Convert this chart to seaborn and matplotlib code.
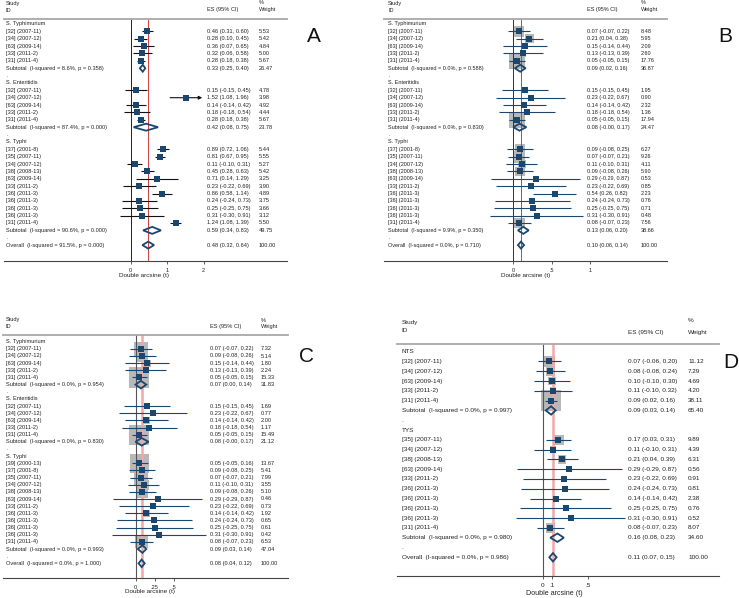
import numpy as np
import pandas as pd
import matplotlib
matplotlib.use("Agg")
import matplotlib.pyplot as plt
import seaborn as sns
from matplotlib.patches import Polygon

sns.set_theme(style="white")
plt.rcParams['font.family'] = ['Liberation Sans', 'DejaVu Sans']

W, H = 739, 598
NAVY = "#1a476f"
TXT = "#222222"

# ---------------- Panel A data ----------------
A_groups = ["S. Typhimurium", "S. Enteritidis", "S. Typhi"]
A_study = ["[32] (2007-11)", "[34] (2007-12)", "[63] (2009-14)", "[33] (2011-2)", "[31] (2011-4)",
           "[32] (2007-11)", "[34] (2007-12)", "[63] (2009-14)", "[33] (2011-2)", "[31] (2011-4)",
           "[37] (2001-8)", "[35] (2007-11)", "[34] (2007-12)", "[38] (2008-13)", "[63] (2009-14)",
           "[33] (2011-2)", "[36] (2011-3)", "[36] (2011-3)", "[36] (2011-3)", "[36] (2011-3)", "[31] (2011-4)"]
A_grp = [0] * 5 + [1] * 5 + [2] * 11
A_es = [0.46, 0.28, 0.36, 0.32, 0.28, 0.15, 1.52, 0.14, 0.18, 0.28,
        0.89, 0.81, 0.11, 0.45, 0.71, 0.23, 0.86, 0.24, 0.25, 0.31, 1.24]
A_lo = [0.31, 0.10, 0.07, 0.06, 0.18, -0.15, 1.08, -0.14, -0.18, 0.18,
        0.72, 0.67, -0.10, 0.28, 0.14, -0.22, 0.58, -0.24, -0.25, -0.30, 1.08]
A_hi = [0.60, 0.45, 0.65, 0.58, 0.38, 0.45, 1.96, 0.42, 0.54, 0.38,
        1.06, 0.95, 0.31, 0.63, 1.29, 0.69, 1.14, 0.73, 0.75, 0.91, 1.39]
A_wt = [5.53, 5.42, 4.84, 5.00, 5.67, 4.78, 3.98, 4.92, 4.44, 5.67,
        5.44, 5.55, 5.27, 5.42, 3.25, 3.90, 4.89, 3.75, 3.66, 3.12, 5.50]
A_arrow = [6]
A_sub_es = [0.33, 0.42, 0.59]
A_sub_lo = [0.25, 0.08, 0.34]
A_sub_hi = [0.40, 0.75, 0.83]
A_sub_wt = [26.47, 23.78, 49.75]
A_sub_i2 = [8.6, 87.4, 90.6]
A_sub_p = [0.358, 0.000, 0.000]
A_ov = [0.48, 0.32, 0.64, 91.5, 0.000]

# ---------------- Panel B data ----------------
B_groups = ["S. Typhimurium", "S. Enteritidis", "S. Typhi"]
B_study = A_study
B_grp = A_grp
B_es = [0.07, 0.21, 0.15, 0.13, 0.05, 0.15, 0.23, 0.14, 0.18, 0.05,
        0.09, 0.07, 0.11, 0.09, 0.29, 0.23, 0.54, 0.24, 0.25, 0.31, 0.08]
B_lo = [-0.07, 0.04, -0.14, -0.13, -0.05, -0.15, -0.22, -0.14, -0.18, -0.05,
        -0.08, -0.07, -0.10, -0.08, -0.29, -0.22, 0.26, -0.24, -0.25, -0.30, -0.07]
B_hi = [0.22, 0.38, 0.44, 0.39, 0.15, 0.45, 0.67, 0.42, 0.54, 0.15,
        0.25, 0.21, 0.31, 0.26, 0.87, 0.69, 0.82, 0.73, 0.75, 0.91, 0.23]
B_wt = [8.48, 5.95, 2.09, 2.60, 17.76, 1.95, 0.90, 2.32, 1.36, 17.94,
        6.27, 9.26, 4.11, 5.90, 0.53, 0.85, 2.23, 0.76, 0.71, 0.48, 7.56]
B_arrow = []
B_sub_es = [0.09, 0.08, 0.13]
B_sub_lo = [0.02, -0.0, 0.06]
B_sub_hi = [0.16, 0.17, 0.20]
B_sub_wt = [36.87, 24.47, 38.66]
B_sub_i2 = [0.0, 0.0, 9.9]
B_sub_p = [0.588, 0.830, 0.350]
B_ov = [0.10, 0.06, 0.14, 0.0, 0.710]

# ---------------- Panel C data ----------------
C_groups = ["S. Typhimurium", "S. Enteritidis", "S. Typhi"]
C_study = ["[32] (2007-11)", "[34] (2007-12)", "[63] (2009-14)", "[33] (2011-2)", "[31] (2011-4)",
           "[32] (2007-11)", "[34] (2007-12)", "[63] (2009-14)", "[33] (2011-2)", "[31] (2011-4)",
           "[39] (2000-13)", "[37] (2001-8)", "[35] (2007-11)", "[34] (2007-12)", "[38] (2008-13)",
           "[63] (2009-14)", "[33] (2011-2)", "[36] (2011-3)", "[36] (2011-3)", "[36] (2011-3)",
           "[36] (2011-3)", "[31] (2011-4)"]
C_grp = [0] * 5 + [1] * 5 + [2] * 12
C_es = [0.07, 0.09, 0.15, 0.13, 0.05, 0.15, 0.23, 0.14, 0.18, 0.05,
        0.05, 0.09, 0.07, 0.11, 0.09, 0.29, 0.23, 0.14, 0.24, 0.25, 0.31, 0.08]
C_lo = [-0.07, -0.08, -0.14, -0.13, -0.05, -0.15, -0.22, -0.14, -0.18, -0.05,
        -0.05, -0.08, -0.07, -0.10, -0.08, -0.29, -0.22, -0.14, -0.24, -0.25, -0.30, -0.07]
C_hi = [0.22, 0.26, 0.44, 0.39, 0.15, 0.45, 0.67, 0.42, 0.54, 0.15,
        0.16, 0.25, 0.21, 0.31, 0.26, 0.87, 0.69, 0.42, 0.73, 0.75, 0.91, 0.23]
C_wt = [7.32, 5.14, 1.80, 2.24, 15.33, 1.69, 0.77, 2.00, 1.17, 15.49,
        13.67, 5.41, 7.99, 3.55, 5.10, 0.46, 0.73, 1.92, 0.65, 0.61, 0.42, 6.53]
C_arrow = []
C_sub_es = [0.07, 0.08, 0.09]
C_sub_lo = [0.00, -0.0, 0.03]
C_sub_hi = [0.14, 0.17, 0.14]
C_sub_wt = [31.83, 21.12, 47.04]
C_sub_i2 = [0.0, 0.0, 0.0]
C_sub_p = [0.954, 0.830, 0.993]
C_ov = [0.08, 0.04, 0.12, 0.0, 1.000]

# ---------------- Panel D data ----------------
D_groups = ["NTS", "TYS"]
D_study = ["[32] (2007-11)", "[34] (2007-12)", "[63] (2009-14)", "[33] (2011-2)", "[31] (2011-4)",
           "[35] (2007-11)", "[34] (2007-12)", "[38] (2008-13)", "[63] (2009-14)", "[33] (2011-2)",
           "[36] (2011-3)", "[36] (2011-3)", "[36] (2011-3)", "[36] (2011-3)", "[31] (2011-4)"]
D_grp = [0] * 5 + [1] * 10
D_es = [0.07, 0.08, 0.10, 0.11, 0.09, 0.17, 0.11, 0.21, 0.29, 0.23, 0.24, 0.14, 0.25, 0.31, 0.08]
D_lo = [-0.06, -0.08, -0.10, -0.10, 0.02, 0.03, -0.10, 0.04, -0.29, -0.22, -0.24, -0.14, -0.25, -0.30, -0.07]
D_hi = [0.20, 0.24, 0.30, 0.32, 0.16, 0.31, 0.31, 0.39, 0.87, 0.69, 0.73, 0.42, 0.75, 0.91, 0.23]
D_wt = [11.12, 7.29, 4.69, 4.20, 38.11, 9.89, 4.39, 6.31, 0.56, 0.91, 0.81, 2.38, 0.76, 0.52, 8.07]
D_arrow = []
D_sub_es = [0.09, 0.16]
D_sub_lo = [0.03, 0.08]
D_sub_hi = [0.14, 0.23]
D_sub_wt = [65.40, 34.60]
D_sub_i2 = [0.0, 0.0]
D_sub_p = [0.997, 0.980]
D_ov = [0.11, 0.07, 0.15, 0.0, 0.986]

A_ticks, A_ticklabels = [0, 1, 2], ["0", "1", "2"]
B_ticks, B_ticklabels = [0, 0.5, 1], ["0", ".5", "1"]
C_ticks, C_ticklabels = [0, 0.25, 0.5], ["0", ".25", ".5"]
D_ticks, D_ticklabels = [0, 0.1, 0.5], ["0", ".1", ".5"]

fig = plt.figure(figsize=(W / 100, H / 100), dpi=100)
fig.patch.set_facecolor("white")


def forest(cfg, letter, groups, study, grp, es, lo, hi, wt, arrows,
           s_es, s_lo, s_hi, s_wt, s_i2, s_p, ov, ticks, ticklabels):
    L, R, yh, ya = cfg["left"], cfg["right"], cfg["yh"], cfg["ya"]
    x0, ppu, r0, rh = cfg["x0"], cfg["ppu"], cfg["r0"], cfg["rh"]
    fs = cfg["fs"]
    ax = fig.add_axes([L / W, 1 - ya / H, (R - L) / W, (ya - yh) / H])
    ax.set_facecolor("none")
    ax.set_xlim((L - x0) / ppu, (R - x0) / ppu)
    ax.set_ylim((ya - r0) / rh, (yh - r0) / rh)

    def X(p):
        return (p - x0) / ppu

    def Y(p):
        return (p - r0) / rh

    def txt(px, row, s, **kw):
        ax.text(X(px), row, s, ha="left", va="center", fontsize=fs, color=TXT,
                clip_on=False, **kw)

    # build rows
    recs = []
    subs = []
    r = 0
    idx = 0
    for g, name in enumerate(groups):
        txt(cfg["lab_x"], r, name)
        r += 1
        for i in [k for k in range(len(study)) if grp[k] == g]:
            recs.append(dict(row=r, es=es[i], lo=lo[i], hi=hi[i], wt=wt[i],
                             lab=study[i], arrow=(i in arrows)))
            r += 1
        subs.append(dict(row=r, es=s_es[g], lo=s_lo[g], hi=s_hi[g], wt=s_wt[g],
                         lab=f"Subtotal  (I-squared = {s_i2[g]:.1f}%, p = {s_p[g]:.3f})"))
        r += 1
        txt(cfg["lab_x"], r, ".")
        r += 1
    subs.append(dict(row=r, es=ov[0], lo=ov[1], hi=ov[2], wt=100.0,
                     lab=f"Overall  (I-squared = {ov[3]:.1f}%, p = {ov[4]:.3f})"))
    df = pd.DataFrame(recs)
    sd = pd.DataFrame(subs)

    # weight boxes
    side_pt = cfg["box_k"] * np.sqrt(df["wt"]) * 0.72
    ax.scatter(df["es"], df["row"], s=side_pt ** 2, marker="s", color=cfg["box_c"],
               linewidths=0, zorder=1)
    # vertical lines
    ax.axvline(0, color=cfg["zero_c"], lw=cfg["zero_lw"], zorder=2)
    ax.axvline(ov[0], color=cfg["red_c"], lw=cfg["red_lw"], zorder=2)
    # CI lines
    nd = df[~df["arrow"]]
    ax.hlines(nd["row"], nd["lo"], nd["hi"], color=cfg["ci_c"], lw=0.8, zorder=3)
    for _, rr in df[df["arrow"]].iterrows():
        ax.annotate("", xy=(rr["hi"], rr["row"]), xytext=(rr["lo"], rr["row"]),
                    arrowprops=dict(arrowstyle="-|>", color=cfg["ci_c"], lw=0.8,
                                    mutation_scale=5, shrinkA=0, shrinkB=0), zorder=3)
    # point estimates
    sns.scatterplot(data=df, x="es", y="row", marker="s", s=cfg["mk"], color=NAVY,
                    edgecolor=NAVY, linewidth=0, ax=ax, zorder=4, legend=False)
    # diamonds
    hd = cfg["dia_h"] / rh
    for _, d in sd.iterrows():
        poly = Polygon([(d["lo"], d["row"]), (d["es"], d["row"] - hd), (d["hi"], d["row"]),
                        (d["es"], d["row"] + hd)], closed=True, fill=False,
                       edgecolor=NAVY, lw=1.3, joinstyle="miter", zorder=5)
        ax.add_patch(poly)

    # text columns
    for _, rr in pd.concat([df, sd]).iterrows():
        txt(cfg["lab_x"], rr["row"], rr["lab"])
        txt(cfg["es_x"], rr["row"], f"{rr['es']:.2f} ({rr['lo']:.2f}, {rr['hi']:.2f})")
        txt(cfg["wt_x"], rr["row"], f"{rr['wt']:.2f}")

    # headers
    txt(cfg["lab_x"], Y(cfg["study_y"]), "Study")
    txt(cfg["lab_x"], Y(cfg["id_y"]), "ID")
    txt(cfg["es_x"], Y(cfg["eshdr_y"]), "ES (95% CI)")
    txt(cfg["wt_x"], Y(cfg["pct_y"]), "%")
    txt(cfg["wt_x"], Y(cfg["eshdr_y"]), "Weight")

    # axes styling
    for sp in ["left", "right"]:
        ax.spines[sp].set_visible(False)
    ax.spines["top"].set_color("#a8a8a8")
    ax.spines["top"].set_linewidth(1.3)
    ax.spines["bottom"].set_color("#444444")
    ax.spines["bottom"].set_linewidth(0.8)
    ax.set_yticks([])
    ax.set_xticks(ticks)
    ax.set_xticklabels(ticklabels)
    ax.tick_params(axis="x", bottom=True, direction="out", length=2.5, width=0.6,
                   color="#444444", pad=2.5, labelsize=fs, labelcolor=TXT)
    ax.set_xlabel("")
    ax.set_ylabel("")
    ax.text(X(cfg["xlab"][0]), Y(cfg["xlab"][1]), "Double arcsine (t)", ha="center",
            va="center", fontsize=fs + 0.5, color=TXT, clip_on=False)
    fig.text(cfg["letter"][0] / W, 1 - cfg["letter"][1] / H, letter, ha="center",
             va="center", fontsize=15, color="#111111")


cfgA = dict(left=4, right=287, yh=19, ya=260.7, x0=130.7, ppu=36.5, r0=24, rh=7.37,
            lab_x=6, es_x=207, wt_x=259, study_y=3, id_y=10, eshdr_y=10, pct_y=3,
            fs=4.1, box_k=2.2, box_c="#b8b8b8", zero_c="#222222", zero_lw=0.7,
            red_c="#d23c3c", red_lw=0.7, ci_c="#111111", mk=16, dia_h=3.5,
            xlab=(144, 276), letter=(314, 36))
cfgB = dict(left=384, right=667, yh=19, ya=260.7, x0=513.3, ppu=77, r0=24, rh=7.37,
            lab_x=388, es_x=587, wt_x=641, study_y=3, id_y=10, eshdr_y=10, pct_y=3,
            fs=4.0, box_k=3.9, box_c="#b8b8b8", zero_c="#333333", zero_lw=0.7,
            red_c="#d23c3c", red_lw=0.7, ci_c=NAVY, mk=16, dia_h=3.5,
            xlab=(526, 276), letter=(725, 36))
cfgC = dict(left=3, right=288, yh=335, ya=577.7, x0=135.5, ppu=77, r0=341.7, rh=7.15,
            lab_x=6, es_x=210, wt_x=261, study_y=320, id_y=326.7, eshdr_y=326.7, pct_y=320,
            fs=4.1, box_k=5.15, box_c="#b8b8b8", zero_c="#555555", zero_lw=0.8,
            red_c="#f0a8a8", red_lw=1.8, ci_c=NAVY, mk=16, dia_h=3.8,
            xlab=(150, 592), letter=(307, 357))
cfgD = dict(left=397, right=719, yh=344, ya=576.3, x0=543, ppu=90.6, r0=351.7, rh=9.79,
            lab_x=401.7, es_x=628, wt_x=688, study_y=322.7, id_y=330.7, eshdr_y=332.3, pct_y=320.7,
            fs=4.6, box_k=3.3, box_c="#b8b8b8", zero_c="#555555", zero_lw=0.8,
            red_c="#f0a8a8", red_lw=1.8, ci_c=NAVY, mk=18, dia_h=4.2,
            xlab=(554, 593.3), letter=(731, 362.5))

forest(cfgA, "A", A_groups, A_study, A_grp, A_es, A_lo, A_hi, A_wt, A_arrow,
       A_sub_es, A_sub_lo, A_sub_hi, A_sub_wt, A_sub_i2, A_sub_p, A_ov, A_ticks, A_ticklabels)
forest(cfgB, "B", B_groups, B_study, B_grp, B_es, B_lo, B_hi, B_wt, B_arrow,
       B_sub_es, B_sub_lo, B_sub_hi, B_sub_wt, B_sub_i2, B_sub_p, B_ov, B_ticks, B_ticklabels)
forest(cfgC, "C", C_groups, C_study, C_grp, C_es, C_lo, C_hi, C_wt, C_arrow,
       C_sub_es, C_sub_lo, C_sub_hi, C_sub_wt, C_sub_i2, C_sub_p, C_ov, C_ticks, C_ticklabels)
forest(cfgD, "D", D_groups, D_study, D_grp, D_es, D_lo, D_hi, D_wt, D_arrow,
       D_sub_es, D_sub_lo, D_sub_hi, D_sub_wt, D_sub_i2, D_sub_p, D_ov, D_ticks, D_ticklabels)

fig.savefig("out.png", dpi=100, facecolor="white")
